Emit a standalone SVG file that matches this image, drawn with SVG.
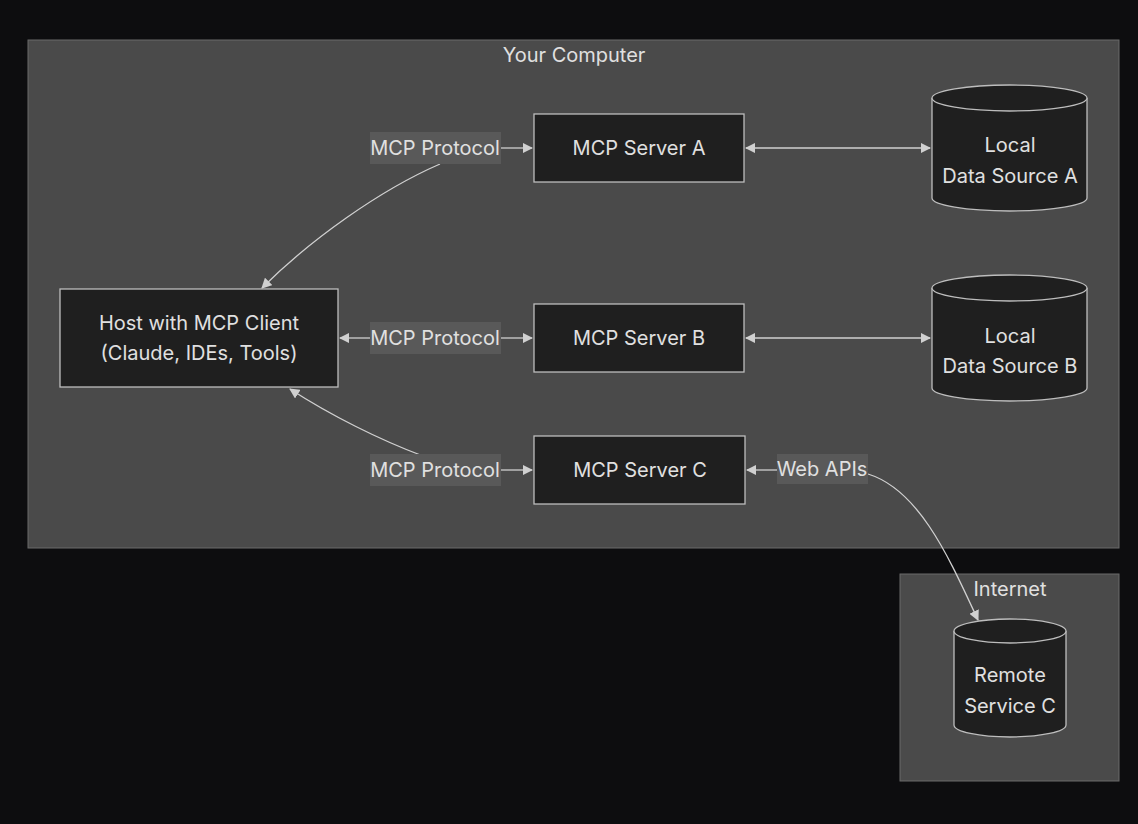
<svg xmlns="http://www.w3.org/2000/svg" width="1138" height="824" viewBox="0 0 1138 824">
<style>
text{font-family:Inter,"Liberation Sans",sans-serif;font-size:20px;fill:#e0e0e0;text-anchor:middle;dominant-baseline:central}
.cl{fill:#4a4a4a;stroke:#6a6a6a;stroke-width:1}
.nd{fill:#1f1f1f;stroke:#bdbdbd;stroke-width:1.3}
.lb{fill:#595959}
.e{fill:none;stroke:#d0d0d0;stroke-width:1.3}
</style>
<defs>
<marker id="ah" viewBox="0 0 10 10" refX="9" refY="5" markerWidth="8" markerHeight="8" orient="auto-start-reverse"><path d="M0,0L10,5L0,10z" fill="#d0d0d0"/></marker>
</defs>
<rect width="1138" height="824" fill="#0d0d0f"/>
<g id="cluster-computer"><rect class="cl" x="28" y="40" width="1091" height="508"/><text x="574" y="55">Your Computer</text></g>
<g id="cluster-internet"><rect class="cl" x="900" y="574" width="219" height="207"/><text x="1010" y="589">Internet</text></g>
<g id="connectors">
<path class="e" d="M501,148H532" marker-end="url(#ah)"/>
<path class="e" d="M440,164C380,190 310,240 262,288" marker-end="url(#ah)"/>
<path class="e" d="M340,338H370" marker-start="url(#ah)"/>
<path class="e" d="M501,338H532" marker-end="url(#ah)"/>
<path class="e" d="M501,470H532" marker-end="url(#ah)"/>
<path class="e" d="M423,456C380,440 330,415 290,389" marker-end="url(#ah)"/>
<path class="e" d="M746,148H930" marker-start="url(#ah)" marker-end="url(#ah)"/>
<path class="e" d="M746,338H930" marker-start="url(#ah)" marker-end="url(#ah)"/>
<path class="e" d="M747,470H778" marker-start="url(#ah)"/>
<path class="e" d="M868,474C920,490 950,560 978,620" marker-end="url(#ah)"/>
<rect class="lb" x="370" y="132" width="131" height="32"/><text x="435" y="148">MCP Protocol</text>
<rect class="lb" x="370" y="322" width="131" height="32"/><text x="435" y="338">MCP Protocol</text>
<rect class="lb" x="370" y="454" width="131" height="32"/><text x="435" y="470">MCP Protocol</text>
<rect class="lb" x="777" y="454" width="91" height="30"/><text x="822" y="469">Web APIs</text>
</g>
<g id="host"><rect class="nd" x="60" y="289" width="278" height="98"/><text x="199" y="323">Host with MCP Client</text><text x="199" y="353">(Claude, IDEs, Tools)</text></g>
<g id="serverA"><rect class="nd" x="534" y="114" width="210" height="68"/><text x="639" y="148">MCP Server A</text></g>
<g id="serverB"><rect class="nd" x="534" y="304" width="210" height="68"/><text x="639" y="338">MCP Server B</text></g>
<g id="serverC"><rect class="nd" x="534" y="436" width="211" height="68"/><text x="640" y="470">MCP Server C</text></g>
<g id="dataA"><path class="nd" d="M932,98A77.5,13 0 0 1 1087,98V198A77.5,13 0 0 1 932,198Z"/><path class="nd" d="M932,98A77.5,13 0 0 0 1087,98" fill="none"/><text x="1010" y="145">Local</text><text x="1010" y="176">Data Source A</text></g>
<g id="dataB"><path class="nd" d="M932,288A77.5,13 0 0 1 1087,288V388A77.5,13 0 0 1 932,388Z"/><path class="nd" d="M932,288A77.5,13 0 0 0 1087,288" fill="none"/><text x="1010" y="336">Local</text><text x="1010" y="366">Data Source B</text></g>
<g id="remoteC"><path class="nd" d="M954,631A56,12 0 0 1 1066,631V725A56,12 0 0 1 954,725Z"/><path class="nd" d="M954,631A56,12 0 0 0 1066,631" fill="none"/><text x="1010" y="675">Remote</text><text x="1010" y="706">Service C</text></g>
</svg>
